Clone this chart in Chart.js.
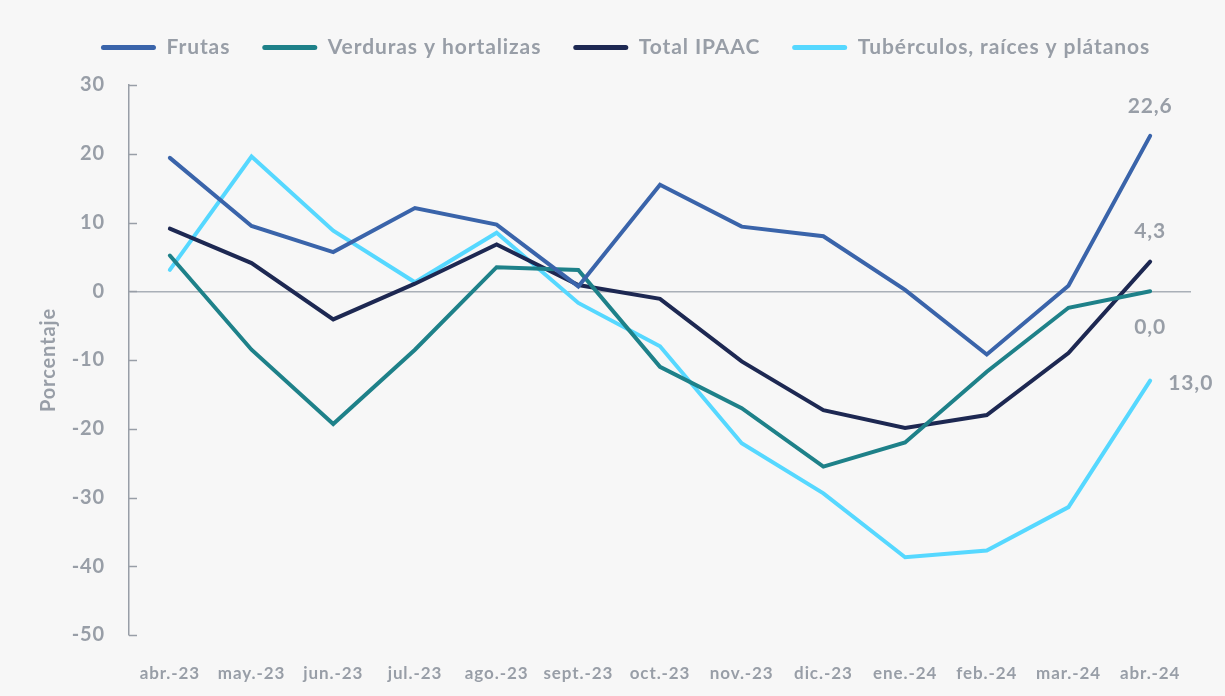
<!DOCTYPE html>
<html>
<head>
<meta charset="utf-8">
<script src="https://cdn.jsdelivr.net/npm/chart.js@4.4.1/dist/chart.umd.min.js"></script>
<style>
  html, body { margin: 0; padding: 0; background: #f7f7f7; }
  canvas { display: block; }
</style>
</head>
<body>
<canvas id="lineChart" width="1225" height="696"></canvas>
<script>
const months = ['abr.-23','may.-23','jun.-23','jul.-23','ago.-23','sept.-23','oct.-23','nov.-23','dic.-23','ene.-24','feb.-24','mar.-24','abr.-24'];

const frutas     = [19.4, 9.5, 5.7, 12.1, 9.7, 0.7, 15.5, 9.4, 8.0, 0.2, -9.2, 0.8, 22.6];
const verduras   = [5.2, -8.5, -19.3, -8.5, 3.5, 3.1, -11.0, -17.0, -25.5, -22.0, -11.7, -2.4, 0.0];
const totalIpaac = [9.1, 4.1, -4.1, 1.1, 6.8, 0.9, -1.1, -10.2, -17.3, -19.9, -18.0, -9.0, 4.3];
const tuberculos = [3.1, 19.6, 8.8, 1.3, 8.5, -1.7, -8.0, -22.1, -29.4, -38.7, -37.7, -31.4, -13.0];

// texts shown next to the last point of each series (as printed)
const endLabels = ['22,6', '0,0', '4,3', '13,0'];

const grey = '#989ea7';
const spacing = '0.9px';
Chart.defaults.font.family = 'Lato, "Noto Sans", sans-serif';
Chart.defaults.font.weight = 'bold';
Chart.defaults.color = grey;

// wider letter spacing for all text (the source font runs wider than Lato)
const letterSpacing = {
  id: 'letterSpacing',
  beforeInit(chart) { chart.ctx.letterSpacing = spacing; },
  beforeLayout(chart) { chart.ctx.letterSpacing = spacing; },
  beforeDraw(chart) { chart.ctx.letterSpacing = spacing; }
};

// legend block: fixed height, shifted a bit to the right like the original
const legendTweak = {
  id: 'legendTweak',
  beforeInit(chart) {
    const legend = chart.legend;
    const fit = legend.fit;
    legend.fit = function () {
      fit.call(this);
      this.height = 80;
    };
    const draw = legend.draw;
    legend.draw = function () {
      const c = this.ctx;
      c.save();
      c.translate(30, 0);
      draw.call(this);
      c.restore();
    };
  }
};

// small tick marks pointing into the plot from the y axis
const innerTicks = {
  id: 'innerTicks',
  afterDraw(chart) {
    const { ctx } = chart;
    const y = chart.scales.y;
    ctx.save();
    ctx.strokeStyle = grey;
    ctx.lineWidth = 1.5;
    y.ticks.forEach(t => {
      const py = Math.round(y.getPixelForValue(t.value)) + 0.5;
      ctx.beginPath();
      ctx.moveTo(y.right, py);
      ctx.lineTo(y.right + 8, py);
      ctx.stroke();
    });
    ctx.restore();
  }
};

// value labels on the last point
const lastValues = {
  id: 'lastValues',
  afterDatasetsDraw(chart, args, opts) {
    const { ctx } = chart;
    ctx.save();
    ctx.font = 'bold 21px Lato, sans-serif';
    ctx.fillStyle = grey;
    ctx.textBaseline = 'middle';
    chart.data.datasets.forEach((ds, i) => {
      const meta = chart.getDatasetMeta(i);
      const pt = meta.data[meta.data.length - 1];
      const o = opts.offsets[i];
      ctx.textAlign = o.align;
      ctx.fillText(endLabels[i], pt.x + o.dx, pt.y + o.dy);
    });
    ctx.restore();
  }
};

const ctx = document.getElementById('lineChart').getContext('2d');
ctx.letterSpacing = spacing;
new Chart(ctx, {
  type: 'line',
  data: {
    labels: months,
    datasets: [
      { label: 'Frutas', data: frutas, borderColor: '#3a64aa', backgroundColor: '#3a64aa' },
      { label: 'Verduras y hortalizas', data: verduras, borderColor: '#1e8189', backgroundColor: '#1e8189' },
      { label: 'Total IPAAC', data: totalIpaac, borderColor: '#1d2852', backgroundColor: '#1d2852' },
      { label: 'Tubérculos, raíces y plátanos', data: tuberculos, borderColor: '#56d8ff', backgroundColor: '#56d8ff' }
    ]
  },
  options: {
    responsive: false,
    animation: false,
    elements: {
      line: { borderWidth: 4, tension: 0, borderCapStyle: 'round', borderJoinStyle: 'miter' },
      point: { radius: 0, hoverRadius: 0 }
    },
    layout: { padding: { top: 5, left: 0, right: 34, bottom: 0 } },
    plugins: {
      tooltip: { enabled: false },
      legend: {
        position: 'top',
        labels: {
          font: { size: 21, weight: 'bold' },
          color: grey,
          boxWidth: 55,
          boxHeight: 5,
          padding: 32,
          useBorderRadius: true,
          borderRadius: 2.5,
          generateLabels(chart) {
            return Chart.defaults.plugins.legend.labels.generateLabels(chart).map(l => {
              l.fillStyle = l.strokeStyle;
              l.lineWidth = 0;
              return l;
            });
          }
        }
      },
      lastValues: {
        offsets: [
          { dx: 0, dy: -30, align: 'center' },
          { dx: 0, dy: 36, align: 'center' },
          { dx: 0, dy: -30, align: 'center' },
          { dx: 18, dy: 3, align: 'left' }
        ]
      }
    },
    scales: {
      x: {
        offset: true,
        grid: { display: false },
        border: { display: false },
        ticks: { font: { size: 17, weight: 'bold' }, color: grey, padding: 20, autoSkip: false, maxRotation: 0 },
        afterFit(scale) { scale.height = 61; }
      },
      y: {
        min: -50,
        max: 30,
        ticks: { stepSize: 10, font: { size: 20, weight: 'bold' }, color: grey, padding: 24 },
        grid: {
          drawTicks: false,
          lineWidth: 1.5,
          color: c => (c.tick && c.tick.value === 0 ? '#aab0b8' : 'rgba(0,0,0,0)')
        },
        border: { display: true, color: grey, width: 1.5 },
        title: {
          display: true,
          text: 'Porcentaje',
          font: { size: 20, weight: 'bold' },
          color: grey,
          padding: { top: 37, bottom: 0 }
        },
        afterFit(scale) { scale.width = 129; }
      }
    }
  },
  plugins: [letterSpacing, legendTweak, innerTicks, lastValues]
});
</script>
</body>
</html>
